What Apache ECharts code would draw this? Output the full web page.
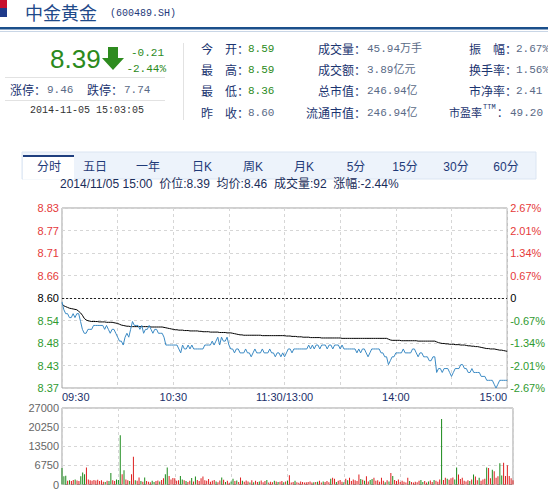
<!DOCTYPE html>
<html><head><meta charset="utf-8">
<script src="https://cdn.jsdelivr.net/npm/echarts@6/dist/echarts.min.js"></script>
<style>html,body{margin:0;padding:0;background:#fff}#c{width:548px;height:490px}</style>
</head><body><div id="c"></div>
<script>
const prevClose = 8.60;
const priceStep = 0.0574;
const timeTicks = ['09:30','10:30','11:30/13:00','14:00','15:00'];
const leftTicks = ['8.37','8.43','8.48','8.54','8.60','8.66','8.71','8.77','8.83'];
const rightTicks = ['-2.67%','-2.01%','-1.34%','-0.67%','0','0.67%','1.34%','2.01%','2.67%'];
const volTicks = ['0','6750','13500','20250','27000'];
const tabs = ['分时','五日','一年','日K','周K','月K','5分','15分','30分','60分'];

const prices = [
8.59,8.57,8.56,8.56,8.55,8.55,8.56,8.55,8.56,8.56,
8.54,8.52,8.51,8.51,8.52,8.52,8.52,8.53,8.53,8.53,
8.53,8.53,8.53,8.52,8.53,8.52,8.51,8.52,8.52,8.51,
8.50,8.49,8.49,8.48,8.50,8.51,8.50,8.52,8.54,8.53,
8.53,8.53,8.52,8.53,8.51,8.52,8.52,8.53,8.52,8.51,
8.52,8.52,8.51,8.51,8.51,8.50,8.48,8.48,8.48,8.48,
8.48,8.48,8.48,8.47,8.46,8.48,8.47,8.47,8.48,8.47,
8.48,8.47,8.47,8.47,8.47,8.47,8.47,8.48,8.48,8.48,
8.48,8.49,8.48,8.49,8.50,8.48,8.50,8.49,8.49,8.50,
8.48,8.47,8.47,8.46,8.47,8.47,8.46,8.46,8.46,8.47,
8.46,8.46,8.45,8.46,8.47,8.46,8.46,8.46,8.47,8.46,
8.46,8.46,8.47,8.46,8.46,8.45,8.46,8.46,8.45,8.46,
8.45,8.46,8.47,8.47,8.46,8.47,8.47,8.47,8.47,8.47,
8.47,8.47,8.47,8.48,8.47,8.48,8.47,8.48,8.48,8.47,
8.48,8.48,8.48,8.47,8.48,8.48,8.47,8.48,8.48,8.48,
8.47,8.48,8.47,8.47,8.47,8.47,8.47,8.47,8.47,8.46,
8.47,8.46,8.47,8.47,8.46,8.45,8.46,8.47,8.47,8.47,
8.47,8.47,8.46,8.46,8.45,8.45,8.43,8.44,8.45,8.45,
8.46,8.46,8.46,8.46,8.47,8.46,8.46,8.46,8.46,8.47,
8.47,8.46,8.45,8.46,8.46,8.45,8.45,8.45,8.44,8.44,
8.45,8.45,8.41,8.42,8.42,8.41,8.42,8.42,8.42,8.41,
8.40,8.41,8.42,8.42,8.42,8.43,8.43,8.42,8.42,8.41,
8.41,8.42,8.41,8.41,8.41,8.41,8.40,8.40,8.40,8.39,
8.39,8.39,8.39,8.38,8.37,8.38,8.39,8.39,8.39,8.39,8.39
];
const avgPrices = [
8.585,8.580,8.578,8.576,8.574,8.573,8.572,8.571,8.570,8.566,
8.562,8.556,8.548,8.544,8.542,8.541,8.540,8.540,8.540,8.540,
8.539,8.539,8.539,8.539,8.538,8.538,8.538,8.538,8.537,8.536,
8.535,8.533,8.531,8.530,8.529,8.528,8.528,8.527,8.527,8.527,
8.527,8.527,8.527,8.527,8.527,8.527,8.527,8.527,8.526,8.526,
8.526,8.526,8.526,8.526,8.526,8.525,8.524,8.523,8.522,8.521,
8.520,8.519,8.519,8.518,8.518,8.518,8.517,8.517,8.517,8.516,
8.516,8.516,8.516,8.516,8.515,8.515,8.514,8.514,8.514,8.514,
8.513,8.513,8.513,8.513,8.513,8.512,8.512,8.512,8.512,8.511,
8.511,8.511,8.510,8.509,8.508,8.507,8.506,8.506,8.505,8.505,
8.505,8.505,8.505,8.505,8.505,8.505,8.505,8.505,8.504,8.504,
8.504,8.504,8.504,8.504,8.504,8.504,8.504,8.504,8.504,8.504,
8.504,8.503,8.503,8.503,8.502,8.502,8.502,8.501,8.501,8.501,
8.500,8.500,8.500,8.500,8.499,8.499,8.499,8.499,8.499,8.499,
8.498,8.498,8.498,8.498,8.498,8.498,8.498,8.498,8.498,8.498,
8.498,8.497,8.497,8.497,8.497,8.497,8.497,8.497,8.497,8.497,
8.497,8.497,8.497,8.497,8.497,8.497,8.497,8.497,8.497,8.497,
8.497,8.497,8.497,8.497,8.497,8.497,8.495,8.493,8.492,8.492,
8.492,8.492,8.492,8.491,8.491,8.491,8.491,8.491,8.491,8.491,
8.491,8.491,8.490,8.490,8.490,8.490,8.490,8.490,8.490,8.490,
8.490,8.490,8.488,8.486,8.485,8.484,8.484,8.483,8.483,8.482,
8.482,8.482,8.481,8.481,8.481,8.480,8.480,8.480,8.479,8.478,
8.478,8.477,8.477,8.476,8.476,8.475,8.474,8.473,8.472,8.471,
8.471,8.470,8.470,8.470,8.469,8.468,8.467,8.467,8.466,8.465,8.464
];
const volumes = [
5800,2900,3100,1300,1500,1200,1600,1800,1400,1200,
2900,4200,3600,6000,1800,1500,1300,1600,1400,1700,
1200,1500,1000,900,1300,1200,4100,1500,1200,1800,
1600,17400,3600,5000,1800,1500,1200,3600,9800,1500,
1300,2500,1200,1000,2500,1200,1000,800,1300,900,
1200,1400,1100,1600,2200,3600,6000,3000,1800,2300,
2200,1300,1500,3000,1800,1500,1200,900,1300,2300,
1100,2800,1600,1200,2200,2800,1500,1300,1900,1000,
1300,1600,1100,800,1400,2500,1700,900,1300,600,
1100,2000,1200,1400,900,2500,1300,1000,1400,1100,
700,1500,800,1300,900,1100,1400,800,1200,1600,
700,1000,800,1300,1100,900,1000,1200,800,1100,
1300,3300,700,900,1300,800,600,1100,900,700,
800,900,1100,700,800,900,1000,1300,700,1100,
900,1200,800,2000,2400,2000,900,1300,1600,1000,
800,2000,1500,2400,1200,1800,1500,1200,3500,1900,
1700,1300,2900,1100,1600,1900,2400,1300,1500,1000,
2400,1300,800,1500,1100,4100,3000,1600,1200,1800,
900,1300,1000,700,2400,1200,900,700,1000,800,
1300,1600,900,1200,700,1100,1400,900,1600,1300,
1000,1800,23100,1600,2400,2000,1700,2200,2500,1800,
6000,3500,1900,2400,1300,1100,1500,1200,1800,3500,
2800,1500,2400,1300,1800,2000,6000,5800,2200,5200,
4700,2400,2900,7500,3200,7700,3000,6800,3000,2200,1500
];

const RED = '#e53a3a', GREEN = '#2f9a2f', NAVY = '#1b3470', GRAYBLUE = '#5a6a86', HGREEN = '#2c8a1c';
const MONO = '"Liberation Mono","Noto Sans CJK SC",monospace';
const CJK = '"Noto Sans CJK SC",sans-serif';
const SANS = '"Liberation Sans","Noto Sans CJK SC",sans-serif';

function T(text, x, y, fill, font, align) {
  return { type: 'text', silent: true, style: { text: text, x: x, y: y, fill: fill, font: font,
    align: align || 'left', verticalAlign: 'middle', textAlign: align || 'left', textVerticalAlign: 'middle' } };
}
function R(x, y, w, h, fill, stroke) {
  return { type: 'rect', silent: true, shape: { x: x, y: y, width: w, height: h },
    style: { fill: fill, stroke: stroke || null, lineWidth: stroke ? 1 : 0 } };
}
function L(x1, y1, x2, y2, c) {
  return { type: 'line', silent: true, shape: { x1: x1, y1: y1, x2: x2, y2: y2 }, style: { stroke: c, lineWidth: 1 } };
}

const g = [];
g.push(R(0, 0, 7, 8, '#c8102e'));
g.push(R(0, 8, 7, 9, '#1f3a8a'));
g.push(T('中金黄金', 25, 12, '#1f4a8a', '18px ' + CJK));
g.push(T('(600489.SH)', 110, 13, '#1f3a7a', '10px ' + MONO));
g.push(R(0, 27, 548, 2.5, '#1a4f8b'));
g.push(L(0, 31.5, 548, 31.5, '#c9d6e6'));
g.push(T('8.39', 50, 59, HGREEN, '26px "Liberation Sans",sans-serif'));
g.push({ type: 'polygon', silent: true, shape: { points: [[108,47],[118,47],[118,58],[124,58],[113,70],[102,58],[108,58]] }, style: { fill: '#2e8b1f' } });
g.push(T('-0.21', 164, 53, HGREEN, '11px ' + MONO, 'right'));
g.push(T('-2.44%', 166, 69, HGREEN, '11px ' + MONO, 'right'));
g.push(L(5, 77.5, 165, 77.5, '#e2e2e2'));
g.push(T('涨停：', 10, 89, NAVY, '12px ' + CJK));
g.push(T('9.46', 47, 89.5, GRAYBLUE, '11px ' + MONO));
g.push(T('跌停：', 87, 89, NAVY, '12px ' + CJK));
g.push(T('7.74', 124, 89.5, GRAYBLUE, '11px ' + MONO));
g.push(L(5, 100.5, 165, 100.5, '#e2e2e2'));
g.push(T('2014-11-05 15:03:05', 30, 110, '#333', '10px ' + MONO));
g.push(L(183.5, 43, 183.5, 120, '#e2e2e2'));

const rowsY = [48, 69, 90, 112];
const c1Labels = ['今　开：', '最　高：', '最　低：', '昨　收：'];
const c1Values = ['8.59', '8.59', '8.36', '8.60'];
const c1Colors = [HGREEN, HGREEN, HGREEN, GRAYBLUE];
const c2Labels = ['成交量：', '成交额：', '总市值：', '流通市值：'];
const c2Values = ['45.94万手', '3.89亿元', '246.94亿', '246.94亿'];
const c3Labels = ['振　幅：', '换手率：', '市净率：'];
const c3Values = ['2.67%', '1.56%', '2.41', '49.20'];
for (let i = 0; i < 4; i++) {
  const y = rowsY[i];
  g.push(T(c1Labels[i], 201, y, NAVY, '12px ' + CJK));
  g.push(T(c1Values[i], 248, y + 0.5, c1Colors[i], '11px ' + MONO));
  g.push(T(c2Labels[i], 366, y, NAVY, '12px ' + CJK, 'right'));
  g.push(T(c2Values[i], 367, y + 0.5, GRAYBLUE, '11px ' + MONO));
  if (i < 3) {
    g.push(T(c3Labels[i], 469, y, NAVY, '12px ' + CJK));
    g.push(T(c3Values[i], 516, y + 0.5, GRAYBLUE, '11px ' + MONO));
  } else {
    g.push(T('市盈率', 449, y, NAVY, '11px ' + CJK));
    g.push(T('TTM', 483, y - 5, NAVY, '7px ' + MONO));
    g.push(T('：', 497, y, NAVY, '11px ' + CJK));
    g.push(T(c3Values[i], 510, y + 0.5, GRAYBLUE, '11px ' + MONO));
  }
}

g.push(R(22, 152, 514, 27, '#edf3fb', '#dbe5f2'));
g.push(R(23, 155, 51, 24.5, '#ffffff'));
g.push(R(23, 155, 51, 2, '#1f3f7f'));
const tabX = [49, 95, 148, 202, 253, 304, 356, 405, 456, 506];
for (let i = 0; i < tabs.length; i++) {
  g.push(T(tabs[i], tabX[i], 167, '#1f3a78', '12px ' + SANS, 'center'));
}
g.push(T('2014/11/05 15:00  价位:8.39  均价:8.46  成交量:92  涨幅:-2.44%', 60, 184, '#1a2d5a', '12px ' + SANS));

const priceSeries = prices.map((p, i) => [i, p - prevClose]);
const avgSeries = avgPrices.map((p, i) => [i, p - prevClose]);
const volSeries = volumes.map((v, i) => [i, v]);

function tickIdx(v) { return Math.round(v / priceStep) + 4; }
function priceColor(v) { const k = tickIdx(v); return k > 4 ? RED : (k < 4 ? GREEN : '#000'); }

const chart = echarts.init(document.getElementById('c'), null, { renderer: 'svg' });
const xBase = {
  type: 'value', min: 0, max: 240, interval: 30,
  axisLine: { show: false }, axisTick: { show: false },
  splitLine: { show: true, lineStyle: { color: '#d6d6d6', type: [3, 3] } }
};
chart.setOption({
  animation: false,
  backgroundColor: '#fff',
  graphic: g,
  grid: [
    { left: 62, width: 451, top: 208, height: 180, show: true, borderColor: '#a0a0a0', borderWidth: 1, backgroundColor: 'transparent' },
    { left: 62, width: 451, top: 408, height: 79, show: true, borderColor: '#a0a0a0', borderWidth: 1, backgroundColor: 'transparent' }
  ],
  xAxis: [
    Object.assign({}, xBase, { gridIndex: 0,
      axisLabel: { show: true, margin: 3, color: '#1a2f6a', fontSize: 11, fontFamily: SANS,
        alignMinLabel: 'left', alignMaxLabel: 'right', showMinLabel: true, showMaxLabel: true,
        formatter: v => (v % 60 === 0 ? timeTicks[v / 60] : '') } }),
    Object.assign({}, xBase, { gridIndex: 1, axisLabel: { show: false } })
  ],
  yAxis: [
    { type: 'value', gridIndex: 0, position: 'left', min: -4 * priceStep, max: 4 * priceStep, interval: priceStep,
      axisLine: { show: false }, axisTick: { show: false },
      splitLine: { show: true, lineStyle: { color: '#d6d6d6', type: [3, 3] } },
      axisLabel: { margin: 3, fontSize: 11, fontFamily: SANS, color: priceColor, formatter: v => leftTicks[tickIdx(v)] } },
    { type: 'value', gridIndex: 0, position: 'right', min: -4 * priceStep, max: 4 * priceStep, interval: priceStep,
      axisLine: { show: false }, axisTick: { show: false }, splitLine: { show: false },
      axisLabel: { margin: 3, fontSize: 11, fontFamily: SANS, color: priceColor, formatter: v => rightTicks[tickIdx(v)] } },
    { type: 'value', gridIndex: 1, min: 0, max: 27000, interval: 6750,
      axisLine: { show: false }, axisTick: { show: false },
      splitLine: { show: true, lineStyle: { color: '#d6d6d6', type: [3, 3] } },
      axisLabel: { margin: 3, fontSize: 11, fontFamily: SANS, color: '#666', formatter: v => volTicks[Math.round(v / 6750)] } }
  ],
  series: [
    { type: 'line', xAxisIndex: 0, yAxisIndex: 0, data: avgSeries, showSymbol: false, symbol: 'none',
      lineStyle: { color: '#000', width: 1 }, z: 3 },
    { type: 'line', xAxisIndex: 0, yAxisIndex: 0, data: priceSeries, showSymbol: false, symbol: 'none',
      lineStyle: { color: '#3b8ac4', width: 1 }, z: 4,
      markLine: { silent: true, symbol: 'none', label: { show: false },
        lineStyle: { color: '#222', type: [2, 2], width: 1 }, data: [{ yAxis: 0 }] } },
    { type: 'bar', xAxisIndex: 1, yAxisIndex: 2, data: volSeries, barWidth: 1,
      itemStyle: { color: p => {
        const i = p.dataIndex; const prev = i === 0 ? prevClose : prices[i - 1];
        return prices[i] >= prev ? '#dd1f1f' : '#1a8a1a'; } } }
  ]
});
</script></body></html>
